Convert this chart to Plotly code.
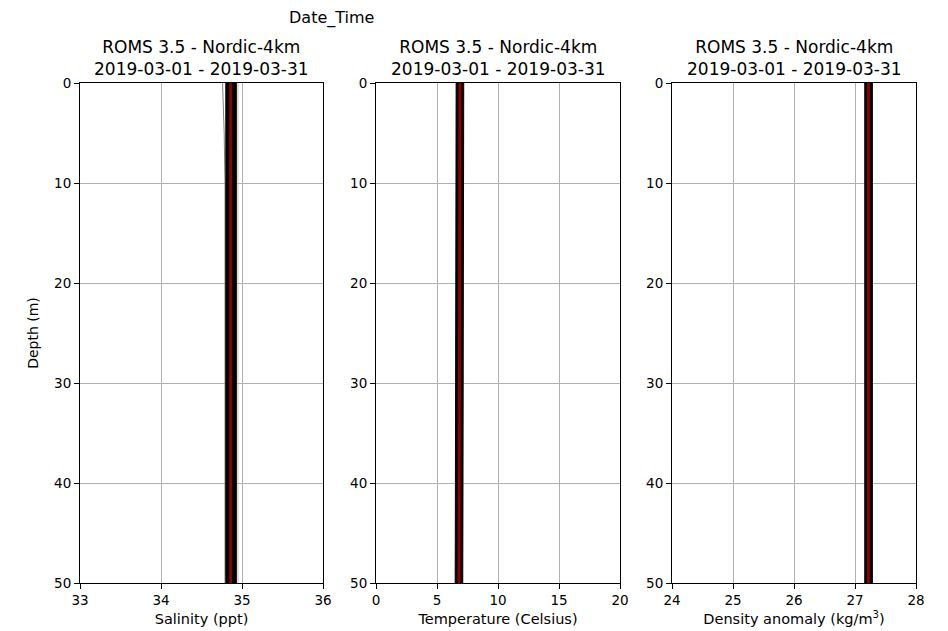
import plotly.graph_objects as go

# ---- data ----
depth = [0, 5, 10, 15, 20, 25, 30, 35, 40, 45, 50]

sal_mean = [34.86, 34.86, 34.86, 34.86, 34.86, 34.86, 34.86, 34.86, 34.86, 34.86, 34.86]
sal_low = [34.80, 34.80, 34.80, 34.80, 34.80, 34.80, 34.80, 34.80, 34.80, 34.80, 34.80]
sal_high = [34.93, 34.93, 34.93, 34.93, 34.93, 34.93, 34.93, 34.93, 34.93, 34.93, 34.93]
sal_min = [34.76, 34.78, 34.79, 34.79, 34.79, 34.79, 34.79, 34.79, 34.79, 34.79, 34.79]
sal_max = [34.95, 34.95, 34.95, 34.95, 34.95, 34.95, 34.95, 34.95, 34.95, 34.95, 34.95]

tem_mean = [6.88, 6.88, 6.87, 6.86, 6.86, 6.85, 6.84, 6.83, 6.82, 6.81, 6.80]
tem_low = [6.57, 6.57, 6.56, 6.55, 6.55, 6.54, 6.53, 6.52, 6.51, 6.50, 6.49]
tem_high = [7.19, 7.19, 7.18, 7.17, 7.17, 7.16, 7.15, 7.14, 7.13, 7.12, 7.11]

den_mean = [27.22, 27.22, 27.22, 27.22, 27.22, 27.22, 27.22, 27.22, 27.22, 27.22, 27.22]
den_low = [27.16, 27.16, 27.16, 27.16, 27.16, 27.16, 27.16, 27.16, 27.16, 27.16, 27.16]
den_high = [27.285, 27.285, 27.285, 27.285, 27.285, 27.285, 27.285, 27.285, 27.285, 27.285, 27.285]

title_text = "ROMS 3.5 - Nordic-4km<br>2019-03-01 - 2019-03-31"
x_titles = ["Salinity (ppt)", "Temperature (Celsius)", "Density anomaly (kg/m<sup>3</sup>)"]
x_ranges = [[33, 36], [0, 20], [24, 28]]
x_ticks = [[33, 34, 35, 36], [0, 5, 10, 15, 20], [24, 25, 26, 27, 28]]
y_ticks = [0, 10, 20, 30, 40, 50]

OFF = 8  # page body margin
W, H = 948 - OFF, 631 - OFF
FONT = "DejaVu Sans"
ML, MR, MT, MB = 80 - OFF, 32, 83 - OFF, 48
PW, PH = W - ML - MR, H - MT - MB

fig = go.Figure()

panels = [
    (sal_mean, sal_low, sal_high, sal_min, sal_max),
    (tem_mean, tem_low, tem_high, None, None),
    (den_mean, den_low, den_high, None, None),
]

x_px = [(80, 323), (376, 620), (672, 916)]

for i, (mean, low, high, mn, mx) in enumerate(panels):
    xa = "x" if i == 0 else f"x{i+1}"
    ya = "y" if i == 0 else f"y{i+1}"
    if mn is not None:
        fig.add_trace(go.Scatter(x=mn, y=depth, mode="lines", line=dict(color="#808080", width=1),
                                 xaxis=xa, yaxis=ya, showlegend=False))
        fig.add_trace(go.Scatter(x=mx, y=depth, mode="lines", line=dict(color="#c0c0c0", width=1),
                                 xaxis=xa, yaxis=ya, showlegend=False))
    fig.add_trace(go.Scatter(x=low, y=depth, mode="lines", line=dict(color="black", width=1),
                             xaxis=xa, yaxis=ya, showlegend=False))
    fig.add_trace(go.Scatter(x=high, y=depth, mode="lines", line=dict(color="black", width=1),
                             fill="tonextx", fillcolor="black",
                             xaxis=xa, yaxis=ya, showlegend=False))
    fig.add_trace(go.Scatter(x=mean, y=depth, mode="lines", line=dict(color="#8b0000", width=3),
                             xaxis=xa, yaxis=ya, showlegend=False))

layout = dict(
    width=W, height=H,
    margin=dict(l=ML, r=MR, t=MT, b=MB, pad=0),
    paper_bgcolor="white", plot_bgcolor="white",
    font=dict(family=FONT, size=13, color="black"),
    showlegend=False,
)

annotations = []
for i in range(3):
    xk = "xaxis" if i == 0 else f"xaxis{i+1}"
    yk = "yaxis" if i == 0 else f"yaxis{i+1}"
    xa = "x" if i == 0 else f"x{i+1}"
    ya = "y" if i == 0 else f"y{i+1}"
    x0, x1 = x_px[i]
    d0, d1 = (x0 - 80) / PW, (x1 - 80) / PW
    layout[xk] = dict(
        domain=[max(0, d0), min(1, d1)], anchor=ya, range=x_ranges[i], tickvals=x_ticks[i],
        showgrid=True, gridcolor="#b0b0b0", gridwidth=1,
        showline=True, linecolor="black", linewidth=1, mirror=True,
        ticks="outside", ticklen=5, tickcolor="black", zeroline=False,
        title=dict(text=x_titles[i], font=dict(size=14.5), standoff=6),
        tickfont=dict(size=13.5), automargin=False,
    )
    layout[yk] = dict(
        domain=[0, 1], anchor=xa, range=[50, 0], tickvals=y_ticks,
        showgrid=True, gridcolor="#b0b0b0", gridwidth=1,
        showline=True, linecolor="black", linewidth=1, mirror=True,
        ticks="outside", ticklen=5, tickcolor="black", zeroline=False,
        tickfont=dict(size=13.5), automargin=False,
    )
    if i == 0:
        layout[yk]["title"] = dict(text="Depth (m)", font=dict(size=14), standoff=12)
    annotations.append(dict(
        text=title_text, x=(d0 + d1) / 2, y=1, xref="paper", yref="paper",
        xanchor="center", yanchor="bottom", yshift=2, showarrow=False,
        font=dict(size=17, family=FONT), align="center",
    ))

annotations.append(dict(
    text="Date_Time", x=(331 - 80) / PW, y=(583 - 18) / PH, xref="paper", yref="paper",
    xanchor="center", yanchor="middle", showarrow=False, font=dict(size=16, family=FONT),
))
layout["annotations"] = annotations

fig.update_layout(**layout)
fig.write_html("out.html")
